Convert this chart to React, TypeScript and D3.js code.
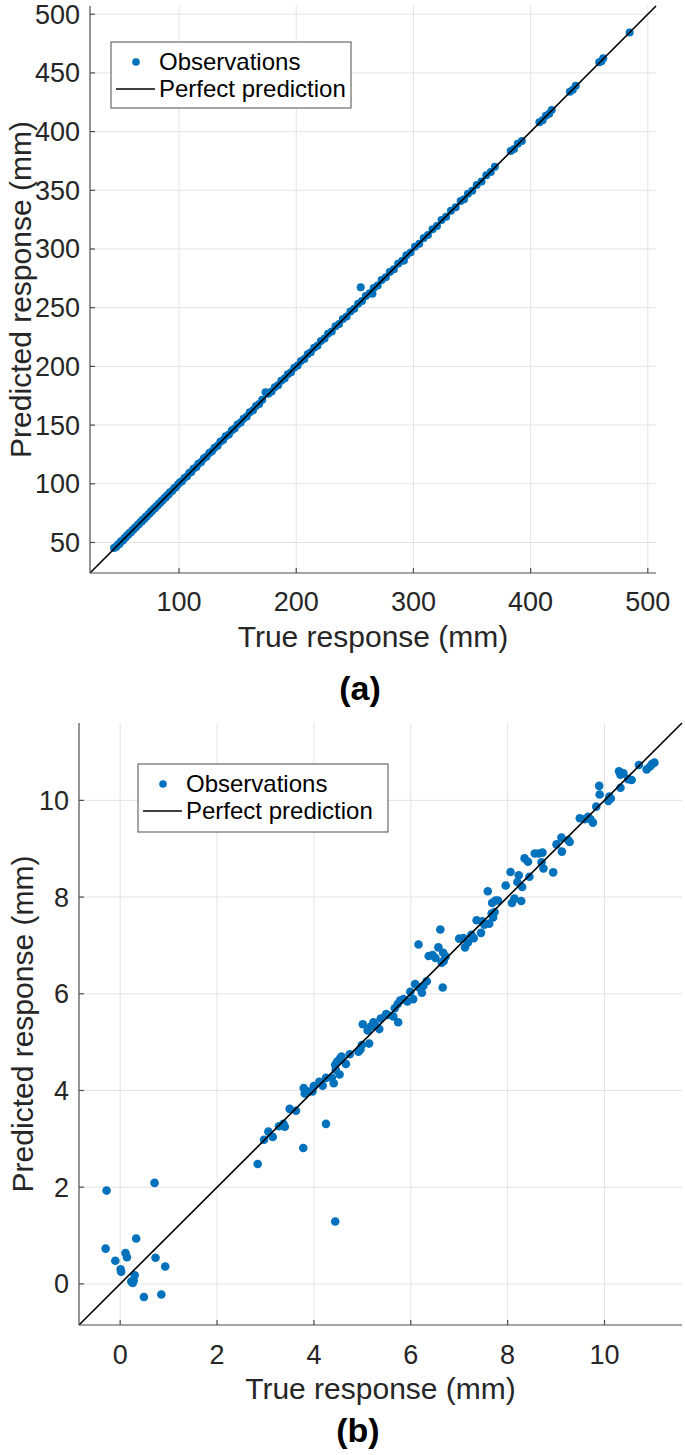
import React from "react";
import * as d3 from "d3";

// ---------- Data ----------
// Panel (a): [true, predicted] in mm
const obsA: [number, number][] = [
  [44.5,45.2],[45.6,46.0],[46.8,46.5],[47.9,48.3],[49.1,48.8],[50.2,50.6],[51.0,51.3],[52.3,52.0],[53.5,53.9],[54.4,54.2],
  [55.8,56.1],[56.7,56.5],[57.9,58.3],[59.0,58.7],[60.2,60.5],[61.1,61.0],[62.5,62.8],[63.4,63.1],[64.8,65.2],[65.7,65.5],
  [66.9,67.3],[68.2,67.9],[69.0,69.4],[70.3,70.1],[71.6,72.0],[72.4,72.2],[73.8,74.1],[74.9,74.6],[76.1,76.5],[77.0,76.9],
  [78.4,78.8],[79.5,79.2],[80.3,80.7],[81.7,81.4],[82.8,83.1],[84.0,83.8],[85.2,85.6],[86.1,86.0],[87.5,87.9],[88.6,88.3],
  [89.7,90.1],[91.0,90.8],[92.2,92.7],[94.1,93.8],[95.8,96.2],[97.3,97.0],[99.0,99.4],
  [100.8,101.3],[102.5,102.1],[104.6,105.0],[106.9,106.5],[108.7,109.2],[110.4,110.0],[112.3,112.8],[114.8,114.4],
  [116.5,117.0],[118.9,118.6],[121.2,121.7],[123.4,123.0],[125.8,126.3],[128.1,127.7],[130.3,130.8],[132.9,132.5],
  [135.2,135.7],[137.6,137.2],[139.8,140.4],[142.5,142.0],[145.1,145.6],[147.4,147.0],[149.9,150.5],[152.6,152.2],
  [155.0,155.5],[157.8,157.3],[160.3,160.9],[163.1,162.6],[165.7,166.3],[168.4,168.0],[171.0,171.6],[173.8,178.0],
  [176.2,176.8],[179.0,178.6],[181.7,182.3],[184.5,184.0],[187.2,187.8],[190.1,189.6],[192.8,193.4],[195.6,195.1],
  [198.3,198.9],[201.2,200.7],[204.0,204.6],[206.9,206.4],[209.7,210.3],[212.4,212.0],[215.3,215.9],[218.1,217.6],
  [221.0,221.6],[224.2,223.7],[227.1,227.7],[230.3,229.8],[233.5,234.1],[236.6,236.1],[239.8,240.4],[243.0,242.5],
  [246.2,246.8],[249.5,249.0],[252.8,253.4],[255.0,267.5],[256.1,255.6],[259.4,260.0],[262.7,262.2],[265.0,261.8],
  [266.1,266.7],[269.5,269.0],[272.9,273.5],[276.4,275.9],[279.8,280.4],[283.3,282.8],[286.9,287.5],[290.4,289.9],
  [291.9,290.2],[294.0,294.6],[297.6,297.1],[301.3,301.9],[305.0,304.5],[308.8,309.4],[312.4,312.0],[316.3,316.9],
  [320.1,319.6],[324.0,324.6],[327.9,327.4],[332.0,332.6],[336.1,335.6],[340.3,340.9],[343.2,342.4],[346.5,347.1],
  [350.2,349.7],[354.0,354.6],[358.1,357.6],[362.2,362.8],[366.0,365.5],[369.5,370.0],[383.0,383.5],[385.8,385.2],
  [389.0,389.6],[392.5,392.0],[407.5,408.0],[410.2,409.7],[413.0,413.5],[415.8,415.3],[418.0,418.4],[433.5,434.0],
  [436.0,435.6],[438.5,439.0],[458.5,459.0],[460.5,460.0],[462.0,462.5],[484.5,484.5],
];

// Panel (b): [true, predicted] in mm
const obsB: [number, number][] = [
  [-0.28,1.93],[0.71,2.09],[-0.30,0.73],[0.33,0.94],[0.11,0.64],[0.14,0.55],[-0.10,0.48],[0.01,0.30],[0.02,0.25],
  [0.73,0.54],[0.93,0.36],[0.30,0.18],[0.23,0.05],[0.28,0.07],[0.26,0.02],[0.49,-0.27],[0.85,-0.22],
  [2.84,2.48],[2.97,2.98],[3.06,3.15],[3.15,3.04],[3.28,3.26],[3.37,3.31],[3.40,3.25],[3.50,3.62],[3.63,3.58],
  [3.78,2.81],[4.25,3.31],[4.44,1.29],[3.79,4.05],[3.81,3.94],[3.89,3.98],[3.97,3.98],[4.00,4.09],[4.11,4.18],
  [4.18,4.10],[4.25,4.26],[4.37,4.26],[4.41,4.15],[4.53,4.33],[4.45,4.43],[4.44,4.53],[4.48,4.60],[4.66,4.55],
  [4.54,4.66],[4.57,4.70],[4.74,4.75],
  [4.92,4.80],[4.96,4.85],[5.01,5.37],[4.99,4.94],[5.14,4.97],[5.11,5.24],[5.18,5.33],[5.23,5.41],[5.28,5.34],
  [5.35,5.27],[5.38,5.49],[5.49,5.58],[5.53,5.56],[5.67,5.70],[5.64,5.53],[5.74,5.41],[5.73,5.79],[5.78,5.86],
  [5.85,5.89],[5.93,5.84],[6.05,5.89],[5.99,6.04],[6.09,6.20],[6.17,6.13],[6.23,6.02],[6.26,6.16],[6.33,6.26],
  [6.66,6.13],[6.16,7.02],[6.37,6.78],[6.45,6.80],[6.51,6.74],[6.57,6.96],[6.61,7.33],[6.67,6.85],[6.64,6.64],
  [6.68,6.68],[6.72,6.77],
  [7.00,7.14],[7.09,7.15],[7.12,6.96],[7.18,7.06],[7.25,7.22],[7.30,7.15],[7.45,7.26],[7.36,7.52],[7.48,7.50],
  [7.52,7.43],[7.62,7.45],[7.59,8.12],[7.67,7.66],[7.73,7.69],[7.70,7.58],[7.68,7.88],[7.75,7.93],[7.80,7.93],
  [7.96,8.24],[8.06,8.52],[8.09,7.88],[8.14,7.97],[8.28,7.92],[8.23,8.45],[8.20,8.31],[8.30,8.21],[8.35,8.80],
  [8.42,8.73],[8.45,8.42],[8.56,8.90],[8.64,8.90],[8.72,8.92],[8.70,8.72],[8.74,8.59],[8.94,8.51],[9.01,9.09],
  [9.11,9.23],[9.12,8.94],[9.25,9.18],[9.28,9.14],[9.49,9.63],[9.59,9.61],[9.66,9.66],[9.71,9.61],[9.76,9.54],
  [9.83,9.87],[9.89,10.30],[9.90,10.12],[10.10,10.08],[10.13,10.04],[10.08,9.99],[10.30,10.60],[10.33,10.53],
  [10.39,10.56],[10.33,10.26],[10.56,10.42],[10.49,10.44],[10.71,10.73],[10.87,10.64],[10.94,10.70],[10.98,10.75],
  [11.03,10.78],
];

const domainA: [number, number] = [24, 507];
const domainB: [number, number] = [-0.85, 11.6];
const xTicksA = [100, 200, 300, 400, 500];
const yTicksA = [50, 100, 150, 200, 250, 300, 350, 400, 450, 500];
const xTicksB = [0, 2, 4, 6, 8, 10];
const yTicksB = [0, 2, 4, 6, 8, 10];

const legendLabels = ["Observations", "Perfect prediction"];
const xLabel = "True response (mm)";
const yLabel = "Predicted response (mm)";

const FONT = "'Liberation Sans', Arial, Helvetica, sans-serif";
const BLUE = "#0072BD";
const AXIS = "#4d4d4d";
const GRID = "#e3e3e3";
const TEXT = "#262626";

type PanelProps = {
  data: [number, number][];
  domain: [number, number];
  xTicks: number[];
  yTicks: number[];
  left: number; right: number; top: number; bottom: number;
  xTickY: number; xLabelY: number; yLabelX: number;
  tag: string; tagX: number; tagY: number;
  r: number;
  legend: { x: number; y: number; w: number; h: number };
};

function Panel(p: PanelProps) {
  const x = d3.scaleLinear().domain(p.domain).range([p.left, p.right]);
  const y = d3.scaleLinear().domain(p.domain).range([p.bottom, p.top]);
  const tickLen = 5;
  const lg = p.legend;
  return (
    <g fontFamily={FONT}>
      {p.xTicks.map((t) => (
        <line key={"gx" + t} x1={x(t)} x2={x(t)} y1={p.top} y2={p.bottom} stroke={GRID} strokeWidth={1} />
      ))}
      {p.yTicks.map((t) => (
        <line key={"gy" + t} x1={p.left} x2={p.right} y1={y(t)} y2={y(t)} stroke={GRID} strokeWidth={1} />
      ))}
      {p.data.map((d, i) => (
        <circle key={i} cx={x(d[0])} cy={y(d[1])} r={p.r} fill={BLUE} />
      ))}
      <line x1={x(p.domain[0])} y1={y(p.domain[0])} x2={x(p.domain[1])} y2={y(p.domain[1])} stroke="#000" strokeWidth={1.6} />
      <line x1={p.left} x2={p.right} y1={p.bottom} y2={p.bottom} stroke={AXIS} strokeWidth={1.2} />
      <line x1={p.left} x2={p.left} y1={p.top} y2={p.bottom} stroke={AXIS} strokeWidth={1.2} />
      {p.xTicks.map((t) => (
        <g key={"tx" + t}>
          <line x1={x(t)} x2={x(t)} y1={p.bottom} y2={p.bottom - tickLen} stroke={AXIS} strokeWidth={1.2} />
          <text x={x(t)} y={p.xTickY} textAnchor="middle" dy="0.35em" fontSize={27} fill={TEXT}>{t}</text>
        </g>
      ))}
      {p.yTicks.map((t) => (
        <g key={"ty" + t}>
          <line x1={p.left} x2={p.left + tickLen} y1={y(t)} y2={y(t)} stroke={AXIS} strokeWidth={1.2} />
          <text x={p.left - 10} y={y(t)} textAnchor="end" dy="0.35em" fontSize={27} fill={TEXT}>{t}</text>
        </g>
      ))}
      <text x={(p.left + p.right) / 2} y={p.xLabelY} textAnchor="middle" dy="0.35em" fontSize={30} fill={TEXT}>{xLabel}</text>
      <text transform={`translate(${p.yLabelX},${(p.top + p.bottom) / 2}) rotate(-90)`} textAnchor="middle" dy="0.35em" fontSize={30} fill={TEXT}>{yLabel}</text>
      <text x={p.tagX} y={p.tagY} textAnchor="middle" dy="0.35em" fontSize={34} fontWeight="bold" fill="#000">{p.tag}</text>
      <rect x={lg.x} y={lg.y} width={lg.w} height={lg.h} fill="#fff" stroke={AXIS} strokeWidth={1} />
      <circle cx={lg.x + 25} cy={lg.y + 20} r={3.8} fill={BLUE} />
      <text x={lg.x + 48} y={lg.y + 20} dy="0.35em" fontSize={24} fill="#000">{legendLabels[0]}</text>
      <line x1={lg.x + 5} x2={lg.x + 44} y1={lg.y + 47} y2={lg.y + 47} stroke="#000" strokeWidth={1.6} />
      <text x={lg.x + 48} y={lg.y + 47} dy="0.35em" fontSize={24} fill="#000">{legendLabels[1]}</text>
    </g>
  );
}

export default function App() {
  return (
    <svg width={685} height={1455} style={{ position: "absolute", left: 0, top: 0, background: "#fff" }}>
      <rect width={685} height={1455} fill="#fff" />
      <Panel
        data={obsA} domain={domainA} xTicks={xTicksA} yTicks={yTicksA}
        left={90} right={656} top={6} bottom={573}
        xTickY={602} xLabelY={636} yLabelX={20}
        tag="(a)" tagX={360} tagY={688} r={4}
        legend={{ x: 111, y: 42, w: 240, h: 66 }}
      />
      <Panel
        data={obsB} domain={domainB} xTicks={xTicksB} yTicks={yTicksB}
        left={79} right={682} top={723} bottom={1325}
        xTickY={1355} xLabelY={1388} yLabelX={22}
        tag="(b)" tagX={358} tagY={1430} r={4.3}
        legend={{ x: 138, y: 764, w: 250, h: 68 }}
      />
    </svg>
  );
}
